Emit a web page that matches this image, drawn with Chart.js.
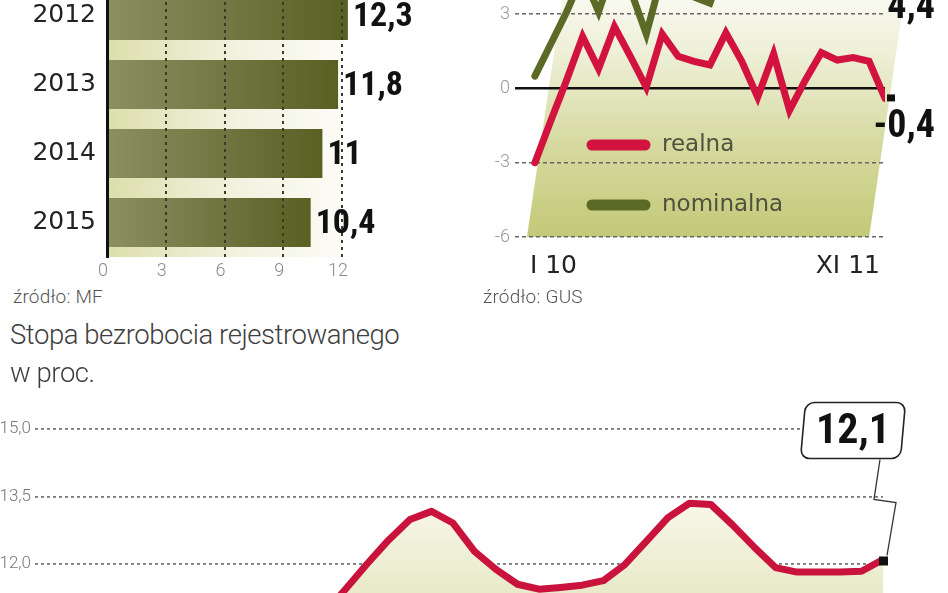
<!DOCTYPE html>
<html>
<head>
<meta charset="utf-8">
<script src="https://cdn.jsdelivr.net/npm/chart.js@4.4.0/dist/chart.umd.min.js"></script>
<style>
html,body{margin:0;padding:0;width:948px;height:593px;overflow:hidden;background:#fff;}
canvas{position:absolute;display:block;}
.t{position:absolute;white-space:nowrap;margin:0;}
.src{font-family:'Roboto',sans-serif;font-weight:300;font-size:19px;color:#555;line-height:20px;letter-spacing:0.2px;}
.ttl{font-family:'Roboto',sans-serif;font-weight:300;font-size:27.5px;color:#3e3e3e;line-height:28px;letter-spacing:-0.45px;}
</style>
</head>
<body>
<canvas id="bars" width="460" height="345" style="left:0;top:-60px"></canvas>
<canvas id="wages" width="488" height="440" style="left:460px;top:-150px"></canvas>
<canvas id="unemp" width="948" height="270" style="left:0;top:380px"></canvas>
<div class="t src" style="left:13px;top:287px">źródło: MF</div>
<div class="t src" style="left:483px;top:287px">źródło: GUS</div>
<div class="t ttl" style="left:10px;top:321px">Stopa bezrobocia rejestrowanego</div>
<div class="t ttl" style="left:10px;top:359px">w proc.</div>
<script>
// ---- data ----
const barYears = ['2012', '2013', '2014', '2015'];
const barValues = [12.3, 11.8, 11, 10.4];
const barTicks = [0, 3, 6, 9, 12];

const wageMonths = ['I 10','II 10','III 10','IV 10','V 10','VI 10','VII 10','VIII 10','IX 10','X 10','XI 10','XII 10',
                    'I 11','II 11','III 11','IV 11','V 11','VI 11','VII 11','VIII 11','IX 11','X 11','XI 11'];
const realWage = [-3.0, -1.3, 0.35, 2.1, 0.8, 2.5, 1.3, 0.05, 2.2, 1.3, 1.1, 0.95,
                  2.25, 1.1, -0.35, 1.4, -0.88, 0.35, 1.45, 1.15, 1.25, 1.1, -0.4];
const nominalWage = [0.5, 1.8, 3.1, 4.6, 3.1, 5.0, 4.0, 2.2, 4.6, 4.0, 3.7, 3.45,
                     5.2, 4.6, 3.9, 5.6, 4.3, 4.5, 5.8, 5.3, 5.2, 5.0, 4.4];
const wageTicks = [-6, -3, 0, 3];
const wageLabels = ['realna', 'nominalna'];

const unempMonths = ['IX 09','X 09','XI 09','XII 09','I 10','II 10','III 10','IV 10','V 10','VI 10','VII 10','VIII 10',
                     'IX 10','X 10','XI 10','XII 10','I 11','II 11','III 11','IV 11','V 11','VI 11','VII 11','VIII 11',
                     'IX 11','X 11','XI 11'];
const unempRate = [10.9, 11.44, 12.0, 12.53, 12.99, 13.17, 12.91, 12.28, 11.88, 11.55, 11.44, 11.48, 11.53, 11.63,
                   11.99, 12.51, 13.03, 13.35, 13.32, 12.87, 12.38, 11.92, 11.82, 11.82, 11.82, 11.84, 12.1];
const unempTicks = [12.0, 13.5, 15.0];

// ---- helpers ----
const fmt = v => String(v).replace('.', ',');
const NARROW = "'Liberation Sans Narrow','Roboto Condensed','DejaVu Sans Condensed',sans-serif";
const RED = '#d2133f';
const GREEN = '#5b6a26';
Chart.defaults.animation = false;
Chart.defaults.responsive = false;
Chart.defaults.plugins.legend.display = false;
Chart.defaults.plugins.tooltip.enabled = false;

// ---- bar chart ----
new Chart(document.getElementById('bars'), {
  type: 'bar',
  data: {
    labels: barYears,
    datasets: [{
      data: barValues,
      borderWidth: 0,
      categoryPercentage: 1,
      barPercentage: 0.71,
      clip: false,
      backgroundColor(c) {
        const ch = c.chart;
        if (!ch.chartArea || !ch.scales.x) return '#6e733c';
        const x0 = ch.scales.x.getPixelForValue(0);
        const x1 = ch.scales.x.getPixelForValue(c.raw);
        const g = ch.ctx.createLinearGradient(x0, 0, x1, 0);
        g.addColorStop(0, '#8c8f62');
        g.addColorStop(1, '#586023');
        return g;
      }
    }]
  },
  options: {
    indexAxis: 'y',
    layout: { padding: { left: 0, right: 118, top: 41, bottom: 0 } },
    scales: {
      x: {
        min: barTicks[0], max: barTicks[barTicks.length - 1],
        afterBuildTicks(s) { s.ticks = barTicks.map(v => ({ value: v })); },
        afterFit(s) { s.height = 28; },
        ticks: { color: '#8a8a8a', font: { family: 'Roboto', weight: 300, size: 18 }, padding: 4, labelOffset: -4 },
        grid: { z: 1, drawTicks: false, lineWidth: 2,
                color: c => (c.tick && c.tick.value === 0) ? 'rgba(0,0,0,0)' : '#3b3b2c' },
        border: { display: false, dash: [3, 4] }
      },
      y: {
        afterFit(s) { s.width = 107; },
        ticks: { color: '#222', font: { family: 'DejaVu Sans', size: 25 }, padding: 11 },
        grid: { display: false, drawTicks: false },
        border: { display: true, color: '#111', width: 3, z: 1 }
      }
    }
  },
  plugins: [{
    id: 'band',
    beforeDatasetsDraw(ch) {
      const { ctx, chartArea: a, scales: { x } } = ch;
      const x0 = x.getPixelForValue(barTicks[0]);
      const x1 = x.getPixelForValue(barTicks[barTicks.length - 1]);
      const g = ctx.createLinearGradient(x0, 0, x1, 0);
      g.addColorStop(0, '#dcdfab');
      g.addColorStop(0.55, '#f1f2df');
      g.addColorStop(1, '#fcfcf6');
      ctx.save(); ctx.fillStyle = g;
      ctx.fillRect(x0, a.top, x1 - x0, a.bottom - a.top);
      ctx.restore();
    }
  }, {
    id: 'barValues',
    afterDraw(ch) {
      const ctx = ch.ctx;
      ctx.save();
      ctx.font = 'bold 34px ' + NARROW;
      ctx.fillStyle = '#111';
      ctx.textAlign = 'left';
      ctx.textBaseline = 'middle';
      ch.getDatasetMeta(0).data.forEach((el, i) => ctx.fillText(fmt(barValues[i]), el.x + 5, el.y + 2));
      ctx.restore();
    }
  }]
});

// ---- wages line chart ----
new Chart(document.getElementById('wages'), {
  type: 'line',
  data: {
    datasets: [
      { label: wageLabels[0], data: realWage.map((v, i) => ({ x: i, y: v })), borderColor: RED, borderWidth: 7,
        pointRadius: 0, borderJoinStyle: 'miter', borderCapStyle: 'round', fill: false, tension: 0 },
      { label: wageLabels[1], data: nominalWage.map((v, i) => ({ x: i, y: v })), borderColor: GREEN, borderWidth: 7,
        pointRadius: 0, borderJoinStyle: 'miter', borderCapStyle: 'round', fill: false, tension: 0 }
    ]
  },
  options: {
    layout: { padding: { left: 0, right: 63, top: 13.7, bottom: 0 } },
    scales: {
      x: {
        type: 'linear', min: -1.25, max: wageMonths.length - 1,
        afterBuildTicks(s) { s.ticks = [{ value: 0 }, { value: wageMonths.length - 1 }]; },
        afterFit(s) { s.height = 53; },
        ticks: { callback: v => wageMonths[v], color: '#222', font: { family: 'DejaVu Sans', size: 25 },
                 padding: 14, align: 'inner', maxRotation: 0, labelOffset: -5 },
        grid: { display: false, drawTicks: false },
        border: { display: false }
      },
      y: {
        min: -6, max: 9,
        afterBuildTicks(s) { s.ticks = wageTicks.map(v => ({ value: v })); },
        afterFit(s) { s.width = 55; },
        ticks: { color: '#999', font: { family: 'Roboto', weight: 300, size: 18 }, padding: 5 },
        grid: { drawTicks: false,
                color: c => (c.tick && c.tick.value === 0) ? '#111' : '#666',
                lineWidth: c => (c.tick && c.tick.value === 0) ? 2.5 : 1.6 },
        border: { display: false, dash: c => (c.tick && c.tick.value === 0) ? [] : [4, 3] }
      }
    }
  },
  plugins: [{
    id: 'slantBg',
    beforeDraw(ch) {
      const { ctx, chartArea: a, scales: { x, y } } = ch;
      const yb = y.getPixelForValue(wageTicks[0]);
      const yt = a.top;
      const xl = x.getPixelForValue(-0.5), xr = x.getPixelForValue(wageMonths.length - 2);
      const k = 0.147, h = yb - yt;
      const g = ctx.createLinearGradient(0, yb, 0, y.getPixelForValue(5));
      g.addColorStop(0, '#c3c978');
      g.addColorStop(0.35, '#d6daa1');
      g.addColorStop(0.65, '#eceed3');
      g.addColorStop(1, '#ffffff');
      ctx.save(); ctx.fillStyle = g;
      ctx.beginPath();
      ctx.moveTo(xl, yb); ctx.lineTo(xr, yb); ctx.lineTo(xr + k * h, yt); ctx.lineTo(xl + k * h, yt);
      ctx.closePath(); ctx.fill(); ctx.restore();
    }
  }, {
    id: 'legendAndEnds',
    afterDatasetsDraw(ch) {
      const { ctx, chartArea: a } = ch;
      ch.data.datasets.forEach((ds, i) => {
        const yy = a.bottom - 92 + i * 60;
        ctx.save();
        ctx.strokeStyle = ds.borderColor; ctx.lineWidth = 11; ctx.lineCap = 'round';
        ctx.beginPath(); ctx.moveTo(a.left + 77, yy); ctx.lineTo(a.left + 130, yy); ctx.stroke();
        ctx.fillStyle = '#4f513c'; ctx.font = "23px 'DejaVu Sans'"; ctx.textBaseline = 'middle';
        ctx.fillText(ds.label, a.left + 147, yy);
        const meta = ch.getDatasetMeta(i);
        const el = meta.data[meta.data.length - 1];
        const v = ds.data[ds.data.length - 1].y;
        ctx.fillStyle = '#111';
        ctx.fillRect(el.x + 2, el.y - 4, 8, 7);
        ctx.font = 'bold 38px ' + NARROW;
        ctx.textAlign = 'right'; ctx.textBaseline = 'top';
        ctx.fillText(fmt(v), el.x + 50, el.y + 10);
        ctx.restore();
      });
    }
  }]
});

// ---- unemployment line chart ----
new Chart(document.getElementById('unemp'), {
  type: 'line',
  data: {
    datasets: [{
      data: unempRate.map((v, i) => ({ x: i, y: v })),
      borderColor: '#c9123c', borderWidth: 7, pointRadius: 0, borderJoinStyle: 'round', tension: 0,
      fill: 'start',
      backgroundColor(c) {
        const ch = c.chart;
        if (!ch.chartArea) return '#f1f0dc';
        const y = ch.scales.y;
        const g = ch.ctx.createLinearGradient(0, y.getPixelForValue(13.4), 0, y.getPixelForValue(11.2));
        g.addColorStop(0, '#f9f7ea');
        g.addColorStop(1, '#e7e9c6');
        return g;
      }
    }]
  },
  options: {
    layout: { padding: { left: 0, right: 65, top: 26.5, bottom: 18.5 } },
    scales: {
      x: { type: 'linear', display: false, min: -13.44, max: unempMonths.length - 1 },
      y: {
        min: 10.5, max: 15.5,
        afterBuildTicks(s) { s.ticks = unempTicks.map(v => ({ value: v })); },
        afterFit(s) { s.width = 35; },
        ticks: { callback: v => v.toFixed(1).replace('.', ','), color: '#777',
                 font: { family: 'Roboto', weight: 300, size: 17 }, padding: 4 },
        grid: { drawTicks: false, color: '#7a7a7a', lineWidth: 1.8 },
        border: { display: false, dash: [3, 3] }
      }
    }
  },
  plugins: [{
    id: 'callout',
    afterDatasetsDraw(ch) {
      const ctx = ch.ctx;
      const meta = ch.getDatasetMeta(0);
      const el = meta.data[meta.data.length - 1];
      const px = el.x, py = el.y;
      ctx.save();
      ctx.strokeStyle = '#333'; ctx.lineWidth = 1.3;
      ctx.beginPath();
      ctx.moveTo(px - 3, py - 100); ctx.lineTo(px - 9, py - 60); ctx.lineTo(px + 13, py - 57); ctx.lineTo(px + 4, py - 4);
      ctx.stroke();
      ctx.fillStyle = '#111';
      ctx.fillRect(px - 4, py - 3, 9, 9);
      ctx.translate(px - 30, py - 129);
      ctx.transform(1, 0, -0.09, 1, 0, 0);
      const w = 100, h = 56, r = 9;
      ctx.beginPath();
      ctx.roundRect(-w / 2, -h / 2, w, h, r);
      ctx.fillStyle = '#fff'; ctx.fill();
      ctx.strokeStyle = '#222'; ctx.lineWidth = 1.6; ctx.stroke();
      ctx.setTransform(1, 0, 0, 1, 0, 0);
      ctx.fillStyle = '#111';
      ctx.font = 'bold 42px ' + NARROW;
      ctx.textAlign = 'center'; ctx.textBaseline = 'middle';
      ctx.fillText(fmt(unempRate[unempRate.length - 1]), px - 30, py - 127);
      ctx.restore();
    }
  }]
});
</script>
</body>
</html>
